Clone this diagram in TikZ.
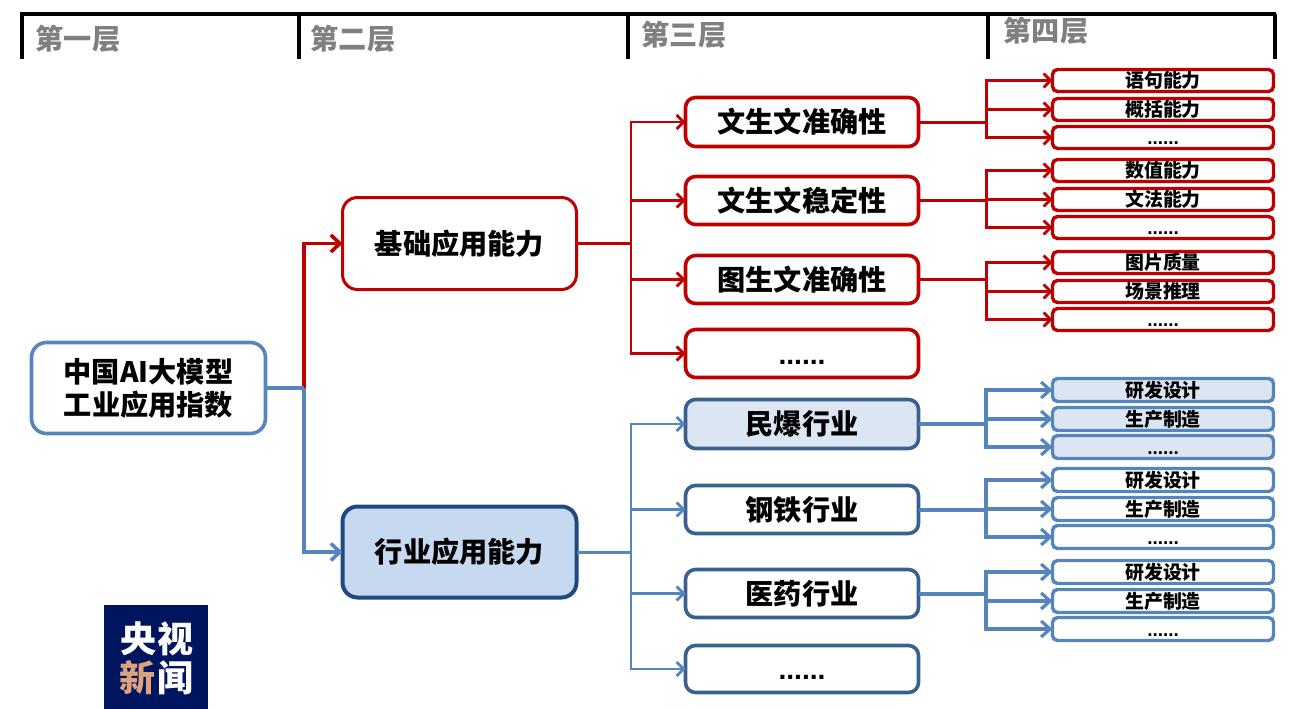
\documentclass[tikz,border=0pt]{standalone}
\usepackage{fontspec}
\setmainfont{Noto Sans CJK SC}[BoldFont=* Black]
\newfontfamily\dotf{Liberation Sans}
\usetikzlibrary{arrows.meta}
\definecolor{cred}{HTML}{BE0000}
\definecolor{cblue}{HTML}{5585BD}
\definecolor{cdark}{HTML}{3A6090}
\definecolor{cnavy}{HTML}{1F4A80}
\definecolor{cfilla}{HTML}{C6D9F1}
\definecolor{cfillb}{HTML}{DCE6F2}
\definecolor{cgrey}{HTML}{808080}
\definecolor{clogo}{HTML}{00155F}
\definecolor{clogot}{HTML}{DDA47C}
\tikzset{
  x=1pt,y=-1pt,
  bxbase/.style={draw,inner sep=0pt,outer sep=0pt,align=center,font=\bfseries},
  big/.style={bxbase,rounded corners=15pt,line width=3pt,font=\fontsize{28.2}{33}\selectfont\bfseries},
  mid/.style={bxbase,rounded corners=10pt,line width=3.6pt,font=\fontsize{28.2}{34}\selectfont\bfseries,text height=21pt,text depth=0pt},
  small/.style={bxbase,rounded corners=5pt,line width=3.4pt,font=\fontsize{18.9}{22}\selectfont\bfseries,text height=14pt,text depth=0pt},
  conn/.style={line width=#1,line cap=butt,line join=miter},
  arr/.style={-{Straight Barb[length=7pt,width=14pt,line width=2.8pt]}},
  barr/.style={-{Straight Barb[length=9pt,width=16pt,line width=3.2pt]}},
  bigarr/.style={-{Straight Barb[length=9pt,width=17pt,line width=3.6pt]}},
  hd/.style={text=cgrey,font=\fontsize{28.2}{34}\selectfont\bfseries,inner sep=0pt},
  logot/.style={font=\fontsize{36}{40}\selectfont\bfseries,inner sep=0pt},
}
\newcommand\bx[7]{\node[#6,minimum width={(#4-#2-1)*1pt},minimum height={(#5-#3-1)*1pt}] (#1) at ({(#2+#4)/2},{(#3+#5)/2}) {#7};}
\newcommand\ddd{{\dotf\bfseries ......}}
\newcommand\branch[7]{%
  \draw[conn=#6,#5] (#1.east) -- (#1.east -| jr);
  \draw[conn=#6,#5,#7] (#1.east -| jr) |- (#2.west);
  \draw[conn=#6,#5,#7] (#1.east -| jr) |- (#3.west);
  \draw[conn=#6,#5,#7] (#1.east -| jr) |- (#4.west);
}
\begin{document}
\begin{tikzpicture}
\useasboundingbox (0,0) rectangle (1299,709);
% header
\coordinate (h0t) at (20,14); \coordinate (h4t) at (1276,14);
\draw[line width=4pt] (h0t) -- (h4t);
\foreach \n/\hx in {a/22,b/299,c/628,d/988,e/1275}{
  \coordinate (v\n t) at (\hx,14); \coordinate (v\n b) at (\hx,59);
  \draw[line width=3.4pt] (v\n t) -- (v\n b);
}
\node[hd] (h1) at (78,39) {第一层};
\node[hd] (h2) at (353,39) {第二层};
\node[hd] (h3) at (684,35) {第三层};
\node[hd] (h4) at (1046,31) {第四层};
% junction columns
\coordinate (jr) at (986,0);
\coordinate (jm) at (631,0);
\coordinate (jl) at (304,0);
% level 1-2
\bx{root}{31}{342}{266}{434}{big,draw=cblue,line width=3.6pt}{中国AI大模型\\工业应用指数}
\bx{base}{342}{197}{577}{290}{big,draw=cred}{基础应用能力}
\bx{ind}{342}{506}{577}{598}{big,draw=cnavy,fill=cfilla,line width=4pt}{行业应用能力}
% level 3 red
\bx{ra}{685}{97}{919}{147}{mid,draw=cred}{文生文准确性}
\bx{rb}{685}{176}{919}{225}{mid,draw=cred}{文生文稳定性}
\bx{rc}{685}{255}{919}{304}{mid,draw=cred}{图生文准确性}
\bx{rd}{685}{329}{919}{378}{mid,draw=cred}{\ddd}
% level 3 blue
\bx{ba}{685}{399}{919}{449}{mid,draw=cdark,fill=cfillb}{民爆行业}
\bx{bb}{685}{485}{919}{534}{mid,draw=cdark}{钢铁行业}
\bx{bc}{685}{569}{919}{618}{mid,draw=cdark}{医药行业}
\bx{bd}{685}{645}{919}{693}{mid,draw=cdark}{\ddd}
% level 4 red
\bx{ra1}{1052}{69}{1274}{92}{small,draw=cred}{语句能力}
\bx{ra2}{1052}{98}{1274}{121}{small,draw=cred}{概括能力}
\bx{ra3}{1052}{126}{1274}{149}{small,draw=cred}{\ddd}
\bx{rb1}{1052}{159}{1274}{182}{small,draw=cred}{数值能力}
\bx{rb2}{1052}{188}{1274}{211}{small,draw=cred}{文法能力}
\bx{rb3}{1052}{216}{1274}{239}{small,draw=cred}{\ddd}
\bx{rc1}{1052}{251}{1274}{274}{small,draw=cred}{图片质量}
\bx{rc2}{1052}{280}{1274}{303}{small,draw=cred}{场景推理}
\bx{rc3}{1052}{308}{1274}{331}{small,draw=cred}{\ddd}
% level 4 blue
\bx{ba1}{1052}{378}{1274}{402}{small,draw=cblue,fill=cfillb}{研发设计}
\bx{ba2}{1052}{407}{1274}{431}{small,draw=cblue,fill=cfillb}{生产制造}
\bx{ba3}{1052}{435}{1274}{459}{small,draw=cblue,fill=cfillb}{\ddd}
\bx{bb1}{1052}{468}{1274}{492}{small,draw=cblue}{研发设计}
\bx{bb2}{1052}{497}{1274}{521}{small,draw=cblue}{生产制造}
\bx{bb3}{1052}{525}{1274}{549}{small,draw=cblue}{\ddd}
\bx{bc1}{1052}{560}{1274}{584}{small,draw=cblue}{研发设计}
\bx{bc2}{1052}{589}{1274}{613}{small,draw=cblue}{生产制造}
\bx{bc3}{1052}{617}{1274}{641}{small,draw=cblue}{\ddd}
% connectors level 1 to 2
\draw[conn=3.6pt,cred,bigarr] (root.east -| jl) |- (base.west);
\draw[conn=3.6pt,cblue] (root.east) -- (root.east -| jl);
\draw[conn=3.6pt,cblue,bigarr] (root.east -| jl) |- (ind.west);
% connectors level 2 to 3
\draw[conn=3pt,cred] (base.east) -- (base.east -| jm);
\foreach \t in {ra,rb,rc,rd}{\draw[conn=2.8pt,cred,arr] (base.east -| jm) |- (\t.west);}
\draw[conn=3pt,cblue] (ind.east) -- (ind.east -| jm);
\foreach \t in {ba,bb,bc,bd}{\draw[conn=2.8pt,cblue,arr] (ind.east -| jm) |- (\t.west);}
% connectors level 3 to 4
\branch{ra}{ra1}{ra2}{ra3}{cred}{3pt}{arr}
\branch{rb}{rb1}{rb2}{rb3}{cred}{3pt}{arr}
\branch{rc}{rc1}{rc2}{rc3}{cred}{3pt}{arr}
\branch{ba}{ba1}{ba2}{ba3}{cblue}{4pt}{barr}
\branch{bb}{bb1}{bb2}{bb3}{cblue}{4pt}{barr}
\branch{bc}{bc1}{bc2}{bc3}{cblue}{4pt}{barr}
% logo
\node[fill=clogo,minimum width=104pt,minimum height=104pt,inner sep=0pt,outer sep=0pt] (logo) at (156,657) {};
\node[logot,text=white] (l1) at (138,639) {央};
\node[logot,text=white] (l2) at (175,639) {视};
\node[logot,text=clogot] (l3) at (137,678) {新};
\node[logot,text=white] (l4) at (175,678) {闻};
\end{tikzpicture}
\end{document}
